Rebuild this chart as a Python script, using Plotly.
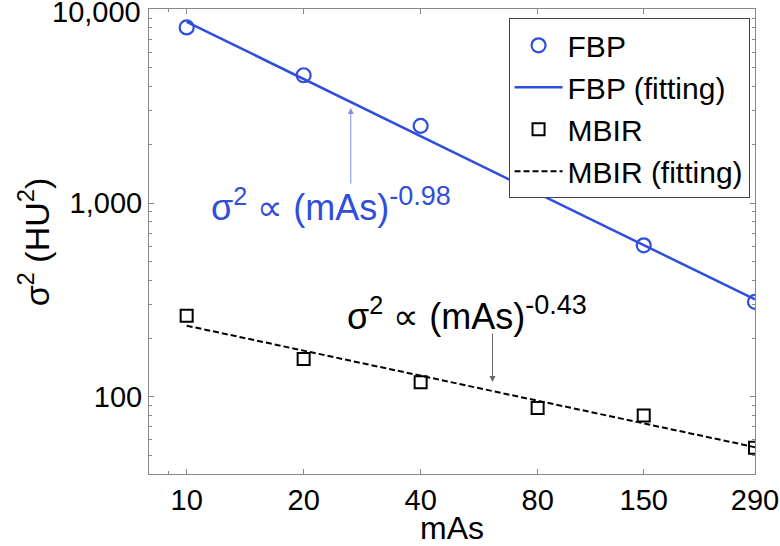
import plotly.graph_objects as go

# Data
mAs = [10, 20, 40, 80, 150, 290]
fbp = [8050, 4560, 2500, 1205, 605, 309]
mbir = [262, 157, 119, 87.5, 80.2, 54.7]
fit_mAs = [10, 290]
fbp_fit = [8600, 318]
mbir_fit = [233, 55]

x_tickvals = [10, 20, 40, 80, 150, 290]
x_ticktext = ["10", "20", "40", "80", "150", "290"]
y_tickvals = [100, 1000, 10000]
y_ticktext = ["100", "1,000", "10,000"]

BLUE = "#2F4EDB"
FONT = "Liberation Sans"
AXC = "#888888"

fig = go.Figure()
fig.add_trace(go.Scatter(x=mAs, y=fbp, mode="markers", name="FBP",
                         marker=dict(symbol="circle-open", size=14, color=BLUE,
                                     line=dict(width=2.2, color=BLUE))))
fig.add_trace(go.Scatter(x=fit_mAs, y=fbp_fit, mode="lines", name="FBP (fitting)",
                         line=dict(color=BLUE, width=2.5)))
fig.add_trace(go.Scatter(x=mAs, y=mbir, mode="markers", name="MBIR",
                         marker=dict(symbol="square-open", size=12, color="black",
                                     line=dict(width=2, color="black"))))
fig.add_trace(go.Scatter(x=fit_mAs, y=mbir_fit, mode="lines", name="MBIR (fitting)",
                         line=dict(color="black", width=2, dash="6px,3px")))

y_minor = [v * m for m in (10, 100, 1000) for v in range(2, 10)] + [40, 50, 60, 70, 80, 90]

# the top tick label sits at the very edge of the figure; it is drawn as an
# annotation nudged slightly down so that it stays fully visible
y_axis_labels = y_ticktext[:-1] + [""]

fig.update_xaxes(type="log", range=[0.90309, 2.4624], tickvals=x_tickvals, ticktext=x_ticktext,
                 ticks="inside", ticklen=5, tickcolor=AXC, showline=True, linecolor=AXC,
                 linewidth=1, mirror="ticks", showgrid=False, zeroline=False, automargin=False,
                 tickfont=dict(family=FONT, size=29, color="black"), ticklabeloverflow="allow",
                 minor=dict(tickvals=[9], ticks="inside", ticklen=3, tickcolor=AXC, showgrid=False))
fig.update_yaxes(type="log", range=[1.60206, 4.0008], tickvals=y_tickvals, ticktext=y_axis_labels,
                 ticks="inside", ticklen=5, tickcolor=AXC, showline=True, linecolor=AXC,
                 linewidth=1, mirror="ticks", showgrid=False, zeroline=False, automargin=False,
                 tickfont=dict(family=FONT, size=29, color="black"), ticklabeloverflow="allow",
                 minor=dict(tickvals=sorted(set(y_minor)), ticks="inside", ticklen=3,
                            tickcolor=AXC, showgrid=False))

annotations = [
    dict(x=1.4223, y=3.4895, xref="x", yref="y", text="", showarrow=True,
         ax=0, ay=77, axref="pixel", ayref="pixel", arrowhead=2, arrowsize=1.2,
         arrowwidth=1, arrowcolor="#7C8EEA"),
    dict(x=1.787, y=2.077, xref="x", yref="y", text="", showarrow=True,
         ax=0, ay=-50, axref="pixel", ayref="pixel", arrowhead=2, arrowsize=1.2,
         arrowwidth=1, arrowcolor="#666666"),
    dict(x=0.0995, y=0.525, xref="paper", yref="paper", xanchor="left", yanchor="bottom",
         text="σ<sup>2</sup> ∝ (mAs)<sup><span style='font-size:27px'>-0.98</span></sup>",
         showarrow=False, font=dict(family=FONT, size=36, color=BLUE)),
    dict(x=0.324, y=0.291, xref="paper", yref="paper", xanchor="left", yanchor="bottom",
         text="σ<sup>2</sup> ∝ (mAs)<sup><span style='font-size:27px'>-0.43</span></sup>",
         showarrow=False, font=dict(family=FONT, size=36, color="black")),
    # top y tick label
    dict(x=-0.0094, y=0.9946, xref="paper", yref="paper", xanchor="right", yanchor="middle",
         text=y_ticktext[-1], showarrow=False, font=dict(family=FONT, size=29, color="black")),
    # axis titles
    dict(x=0.5, y=-0.117, xref="paper", yref="paper", xanchor="center", yanchor="middle",
         text="mAs", showarrow=False, font=dict(family=FONT, size=32, color="black")),
    dict(x=-0.19, y=0.5, xref="paper", yref="paper", xanchor="center", yanchor="middle",
         text="σ<sup>2</sup> (HU<sup>2</sup>)", showarrow=False, textangle=-90,
         font=dict(family=FONT, size=34, color="black")),
]

fig.update_layout(
    width=780, height=546,
    margin=dict(l=149, r=25, t=9, b=72, autoexpand=False),
    paper_bgcolor="white", plot_bgcolor="white",
    font=dict(family=FONT, color="black"),
    annotations=annotations,
    legend=dict(x=0.991, y=0.98, xanchor="right", yanchor="top",
                bgcolor="white", bordercolor="#444444", borderwidth=1,
                font=dict(family=FONT, size=30, color="black"),
                tracegroupgap=0, itemwidth=48),
)

fig.write_html("out.html", config={"displayModeBar": False},
               post_script="document.body.style.margin='0';document.body.style.overflow='hidden';")
